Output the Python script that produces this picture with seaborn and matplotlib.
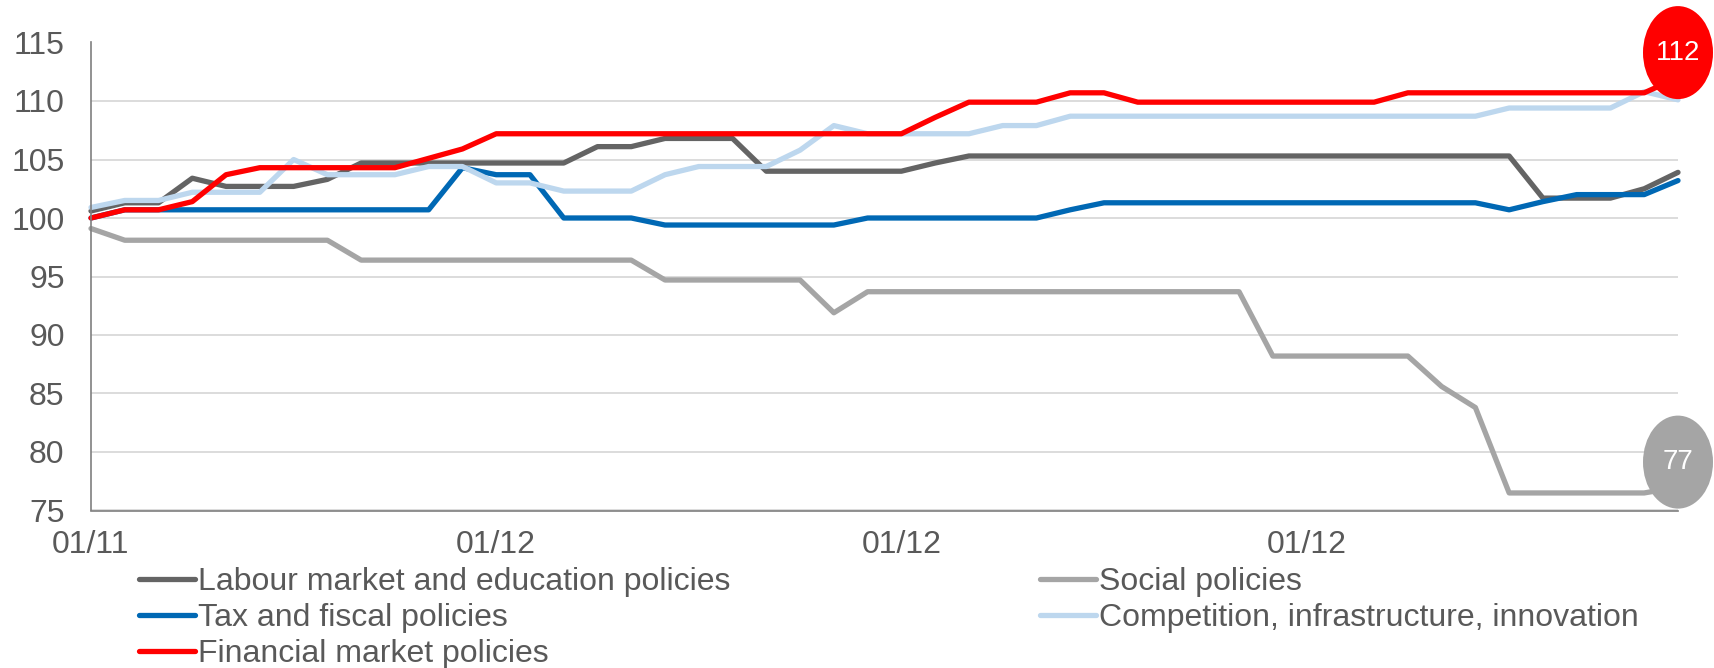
import matplotlib
matplotlib.use("Agg")
import matplotlib.pyplot as plt
from matplotlib.lines import Line2D
from matplotlib.patches import Ellipse
from matplotlib.transforms import ScaledTranslation
import numpy as np
import pandas as pd
import seaborn as sns

# Monthly index values (start = 100), 48 months
months = list(range(48))
tick_positions = [0, 12, 24, 36]
tick_labels = ["01/11", "01/12", "01/12", "01/12"]

labour = [100.6, 101.3, 101.3, 103.4, 102.7, 102.7, 102.7, 103.3, 104.7, 104.7,
          104.7, 104.7, 104.7, 104.7, 104.7, 106.1, 106.1, 106.8, 106.8, 106.8,
          104.0, 104.0, 104.0, 104.0, 104.0, 104.7, 105.3, 105.3, 105.3, 105.3,
          105.3, 105.3, 105.3, 105.3, 105.3, 105.3, 105.3, 105.3, 105.3, 105.3,
          105.3, 105.3, 105.3, 101.7, 101.7, 101.7, 102.5, 103.9]
social = [99.1, 98.1, 98.1, 98.1, 98.1, 98.1, 98.1, 98.1, 96.4, 96.4,
          96.4, 96.4, 96.4, 96.4, 96.4, 96.4, 96.4, 94.7, 94.7, 94.7,
          94.7, 94.7, 91.9, 93.7, 93.7, 93.7, 93.7, 93.7, 93.7, 93.7,
          93.7, 93.7, 93.7, 93.7, 93.7, 88.2, 88.2, 88.2, 88.2, 88.2,
          85.6, 83.8, 76.5, 76.5, 76.5, 76.5, 76.5, 77.0]
tax = [100.0, 100.7, 100.7, 100.7, 100.7, 100.7, 100.7, 100.7, 100.7, 100.7,
       100.7, 104.3, 103.7, 103.7, 100.0, 100.0, 100.0, 99.4, 99.4, 99.4,
       99.4, 99.4, 99.4, 100.0, 100.0, 100.0, 100.0, 100.0, 100.0, 100.7,
       101.3, 101.3, 101.3, 101.3, 101.3, 101.3, 101.3, 101.3, 101.3, 101.3,
       101.3, 101.3, 100.7, 101.4, 102.0, 102.0, 102.0, 103.2]
competition = [100.9, 101.5, 101.5, 102.2, 102.2, 102.2, 105.0, 103.7, 103.7, 103.7,
               104.4, 104.4, 103.0, 103.0, 102.3, 102.3, 102.3, 103.7, 104.4, 104.4,
               104.4, 105.8, 107.9, 107.2, 107.2, 107.2, 107.2, 107.9, 107.9, 108.7,
               108.7, 108.7, 108.7, 108.7, 108.7, 108.7, 108.7, 108.7, 108.7, 108.7,
               108.7, 108.7, 109.4, 109.4, 109.4, 109.4, 110.8, 110.1]
financial = [100.0, 100.7, 100.7, 101.4, 103.7, 104.3, 104.3, 104.3, 104.3, 104.3,
             105.1, 105.9, 107.2, 107.2, 107.2, 107.2, 107.2, 107.2, 107.2, 107.2,
             107.2, 107.2, 107.2, 107.2, 107.2, 108.6, 109.9, 109.9, 109.9, 110.7,
             110.7, 109.9, 109.9, 109.9, 109.9, 109.9, 109.9, 109.9, 109.9, 110.7,
             110.7, 110.7, 110.7, 110.7, 110.7, 110.7, 110.7, 112.0]

series_names = ["Labour market and education policies", "Social policies",
                "Tax and fiscal policies", "Competition, infrastructure, innovation",
                "Financial market policies"]
series_values = [labour, social, tax, competition, financial]
series_colors = ["#646464", "#a5a5a5", "#0068b4", "#bdd7ee", "#ff0000"]

df = pd.concat(
    [pd.DataFrame({"month": months, "value": vals, "series": name})
     for name, vals in zip(series_names, series_values)],
    ignore_index=True,
)

sns.set_style("white")
plt.rcParams["font.family"] = ["Liberation Sans", "DejaVu Sans"]
text_color = "#595959"
line_w = 3.8

W, H = 1715, 668
fig = plt.figure(figsize=(W / 100, H / 100), dpi=100)
ax = fig.add_axes([91 / W, (H - 510.5) / H, (1678 - 91) / W, 468 / H])

sns.lineplot(data=df, x="month", y="value", hue="series", hue_order=series_names,
             palette=dict(zip(series_names, series_colors)), linewidth=line_w,
             legend=False, ax=ax, estimator=None)
for line in ax.get_lines():
    line.set_solid_joinstyle("round")
    line.set_solid_capstyle("round")
    line.set_clip_on(False)

ax.set_xlim(0, 47)
ax.set_ylim(75, 115)
ax.set_yticks(np.arange(75, 116, 5))
ax.set_xticks(tick_positions)
ax.set_xticklabels(tick_labels)
ax.set_xlabel("")
ax.set_ylabel("")
ax.yaxis.grid(True, color="#d9d9d9", linewidth=1.3)
ax.xaxis.grid(False)
ax.set_axisbelow(True)
for side in ["top", "right"]:
    ax.spines[side].set_visible(False)
for side in ["left", "bottom"]:
    ax.spines[side].set_color("#7f7f7f")
    ax.spines[side].set_linewidth(1.2)
ax.tick_params(axis="y", length=0, pad=19, labelsize=23, labelcolor=text_color)
ax.tick_params(axis="x", length=0, pad=14, labelsize=23, labelcolor=text_color)

# End-of-series value bubbles
for vals, color in [(financial, "#ff0000"), (social, "#a5a5a5")]:
    trans = fig.dpi_scale_trans + ScaledTranslation(months[-1], vals[-1], ax.transData)
    ax.add_patch(Ellipse((0, 0.25), 0.70, 0.93, transform=trans, facecolor=color,
                         edgecolor="none", clip_on=False, zorder=5))
    ax.text(0, 0.25, f"{vals[-1]:.0f}", transform=trans, ha="center", va="center",
            color="white", fontsize=20, zorder=6, clip_on=False)

# Legend: two columns, row-wise order as in the series table
order = [0, 2, 4, 1, 3]
handles = [Line2D([], [], color=series_colors[i], linewidth=line_w,
                  solid_capstyle="round") for i in order]
labels = [series_names[i] for i in order]
fig.legend(handles, labels, ncol=2, loc="upper left",
           bbox_to_anchor=(139 / W, (H - 567) / H), frameon=False,
           fontsize=23, labelcolor=text_color, handlelength=1.75,
           handletextpad=0.1, columnspacing=9.7, labelspacing=0.19,
           borderpad=0, borderaxespad=0)

fig.savefig("out.png", dpi=100)
